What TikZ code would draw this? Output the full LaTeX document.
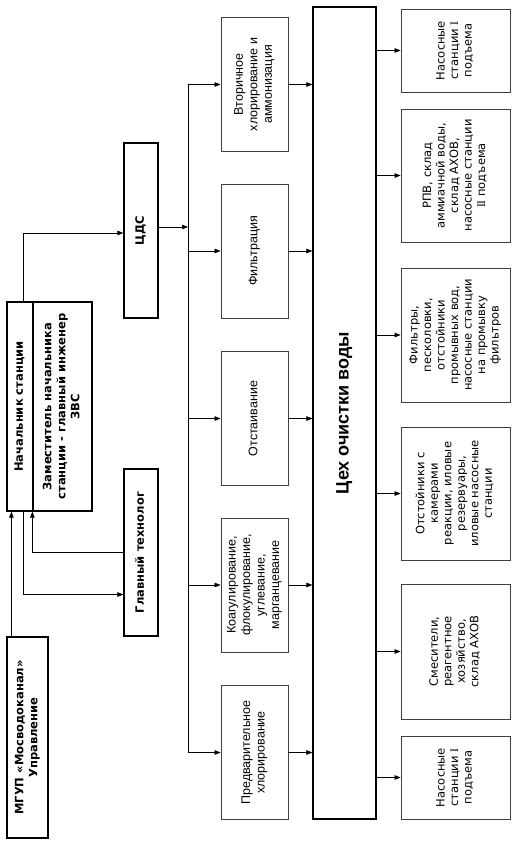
\documentclass[tikz,border=0pt]{standalone}
\usepackage{fontspec}
\usepackage{graphicx}
\usepackage{tikz}
\usetikzlibrary{arrows.meta}
\setmainfont{Liberation Sans}
\newfontfamily\verd{DejaVu Sans}
\newfontfamily\rom{Liberation Serif}
\newcommand\vtext[1]{\rotatebox{90}{\begin{tabular}{@{}c@{}}#1\end{tabular}}}
\tikzset{
  boss/.style={draw,line width=1.2pt,inner sep=0pt,font=\verd\bfseries\fontsize{11.5}{14}\selectfont},
  proc/.style={draw=black!75,line width=0.8pt,inner sep=0pt,minimum width=67pt,minimum height=134pt,font=\fontsize{12.5}{14.5}\selectfont},
  unit/.style={draw=black!75,line width=0.8pt,inner sep=0pt,minimum width=109pt,font=\verd\fontsize{11.5}{13.5}\selectfont},
  arr/.style={-{Triangle[length=6pt,width=4.5pt]},line width=0.6pt}
}

\begin{document}
\begin{tikzpicture}[x=1pt,y=-1pt]
\useasboundingbox (0,0) rectangle (523,852);
\node[boss,minimum width=41pt,minimum height=201pt] (mgup) at (27.5,737.5) {\vtext{МГУП «Мосводоканал»\\Управление}};
\node[boss,minimum width=26pt,minimum height=209pt] (nach) at (20,406.5) {\vtext{Начальник станции}};
\node[boss,minimum width=59pt,minimum height=209pt] (zam) at (62.5,406.5) {\vtext{Заместитель начальника\\станции - главный инженер\\ЗВС}};
\node[boss,minimum width=34pt,minimum height=167pt] (glav) at (141,552.5) {\vtext{Главный технолог}};
\node[boss,minimum width=34pt,minimum height=175pt] (cds) at (141,230.5) {\vtext{ЦДС}};
\node[boss,minimum width=63pt,minimum height=812pt,font=\bfseries\fontsize{18}{20}\selectfont] (tsekh) at (344.5,413) {\vtext{Цех очистки воды}};

\node[proc] (vtor) at (254.5,84.5) {\vtext{Вторичное\\хлорирование и\\аммонизация}};
\node[proc] (filt) at (254.5,251) {\vtext{Фильтрация}};
\node[proc] (otst) at (254.5,418.5) {\vtext{Отстаивание}};
\node[proc] (koag) at (254.5,585) {\vtext{Коагулирование,\\флокулирование,\\углевание,\\марганцевание}};
\node[proc] (pred) at (254.5,752.5) {\vtext{Предварительное\\хлорирование}};

\node[unit,minimum height=83pt] (nas1) at (455.5,50.5) {\vtext{Насосные\\станции {\rom I}\\подъема}};
\node[unit,minimum height=133pt] (rpv) at (455.5,175.5) {\vtext{РПВ, склад\\аммиачной воды,\\склад АХОВ,\\насосные станции\\{\rom II} подъема}};
\node[unit,minimum height=134pt] (filtr) at (455.5,335) {\vtext{Фильтры,\\песколовки,\\отстойники\\промывных вод,\\насосные станции\\на промывку\\фильтров}};
\node[unit,minimum height=133pt] (otsto) at (455.5,493.5) {\vtext{Отстойники с\\камерами\\реакции, иловые\\резервуары,\\иловые насосные\\станции}};
\node[unit,minimum height=135pt] (smes) at (455.5,651.5) {\vtext{Смесители,\\реагентное\\хозяйство,\\склад АХОВ}};
\node[unit,minimum height=83pt] (nas2) at (455.5,777.5) {\vtext{Насосные\\станции {\rom I}\\подъема}};

\draw[arr] ([xshift=5pt]mgup.north west) -- ([xshift=5pt]mgup.north west |- nach.south);
\draw[arr] ([xshift=3pt]nach.south) |- ([yshift=-42pt]glav.west);
\draw[arr] (glav.west) -| (zam.south west);
\draw[arr] ([xshift=3pt]nach.north) |- ([yshift=-2.5pt]cds.west);

\coordinate (bustop) at (188,84.5);
\coordinate (busbot) at (188,752.5);
\draw[line width=0.6pt] (bustop) -- (busbot);
\draw[arr] ([yshift=3.5pt]cds.east) -- ([yshift=3.5pt]cds.east -| bustop);
\foreach \p in {vtor,filt,otst,koag,pred} {
  \draw[arr] (bustop |- \p.west) -- (\p.west);
  \draw[arr] (\p.east) -- (\p.east -| tsekh.west);
}
\foreach \u in {nas1,rpv,filtr,otsto,smes,nas2}
  \draw[arr] (\u.west -| tsekh.east) -- (\u.west);
\end{tikzpicture}
\end{document}
